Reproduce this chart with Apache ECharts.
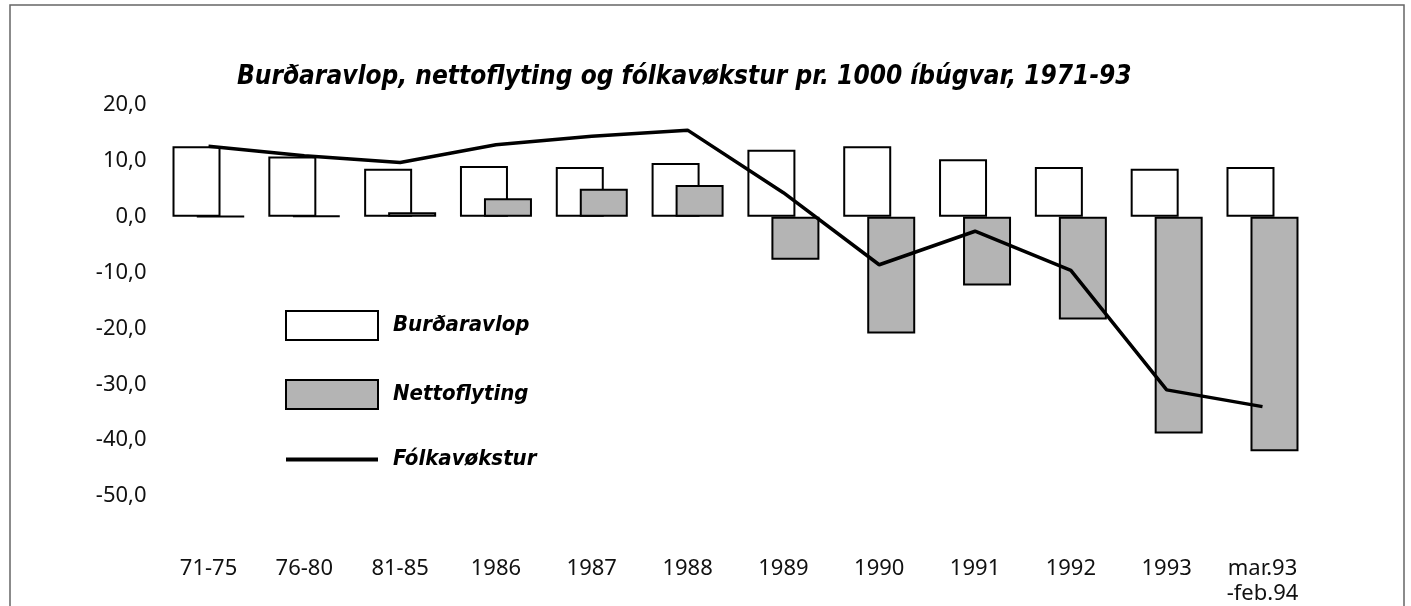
<!DOCTYPE html>
<html>
<head>
<meta charset="utf-8">
<script src="https://cdn.jsdelivr.net/npm/echarts@6/dist/echarts.min.js"></script>
<style>
html,body{margin:0;padding:0;background:#fff;}
#chart{width:1411px;height:606px;}
</style>
</head>
<body>
<div id="chart"></div>
<script>
var titleText = 'Burðaravlop, nettoflyting og fólkavøkstur pr. 1000 íbúgvar, 1971-93';
var categories = ['71-75','76-80','81-85','1986','1987','1988','1989','1990','1991','1992','1993','mar.93\n-feb.94'];
var burdaravlop = [12.6, 10.8, 8.6, 9.1, 8.9, 9.6, 12.0, 12.6, 10.3, 8.9, 8.6, 8.9];
var nettoflyting = [0.1, 0.2, 0.8, 3.3, 5.0, 5.7, -7.7, -20.9, -12.3, -18.4, -38.8, -42.0];
var folkavokstur = [12.6, 10.9, 9.7, 12.9, 14.4, 15.5, 4.3, -8.6, -2.6, -9.6, -31.0, -34.0];
var yMin = -50, yMax = 20, yStep = 10;

var chart = echarts.init(document.getElementById('chart'));
var labelFont = '"Noto Sans", sans-serif';
var boldFont = '"DejaVu Sans Condensed", "DejaVu Sans", sans-serif';
chart.setOption({
  backgroundColor: '#fff',
  animation: false,
  title: {
    text: titleText,
    left: 232,
    top: 59,
    textStyle: {fontFamily: boldFont, fontSize: 26, fontWeight: 'bold', fontStyle: 'italic', color: '#000'}
  },
  graphic: [{
    type: 'rect', silent: true, z: -1,
    shape: {x: 10, y: 5, width: 1394, height: 620},
    style: {fill: 'none', stroke: '#666', lineWidth: 1.5}
  }],
  legend: {
    orient: 'vertical',
    left: 284,
    top: 310,
    padding: 0,
    itemGap: 38,
    itemWidth: 92,
    itemHeight: 29,
    textStyle: {fontFamily: boldFont, fontSize: 22, fontWeight: 'bold', fontStyle: 'italic', color: '#000', padding: [0,0,0,10]},
    data: [
      {name: 'Burðaravlop', icon: 'rect'},
      {name: 'Nettoflyting', icon: 'rect'},
      {name: 'Fólkavøkstur', itemStyle: {color: 'rgba(0,0,0,0)', borderWidth: 0, opacity: 0}, lineStyle: {width: 4, color: '#000'}}
    ]
  },
  grid: {left: 160.6, right: 100.6, top: 105, bottom: 93, containLabel: false},
  xAxis: {
    type: 'category',
    data: categories,
    axisLine: {show: false, onZero: false},
    axisTick: {show: false},
    splitLine: {show: false},
    axisLabel: {fontFamily: labelFont, fontSize: 22, color: '#111', margin: 60, lineHeight: 25, interval: 0}
  },
  yAxis: {
    type: 'value',
    min: yMin, max: yMax, interval: yStep,
    axisLine: {show: false},
    axisTick: {show: false},
    splitLine: {show: false},
    axisLabel: {
      fontFamily: labelFont, fontSize: 22, color: '#111', margin: 14,
      formatter: function (v) { return v.toFixed(1).replace('.', ','); }
    }
  },
  series: [
    {
      name: 'Burðaravlop', type: 'bar', data: burdaravlop,
      barWidth: 48, barGap: '-50%', z: 2,
      itemStyle: {color: '#ffffff', borderColor: '#000', borderWidth: 2}
    },
    {
      name: 'Nettoflyting', type: 'bar', data: nettoflyting,
      barWidth: 48, barGap: '-50%', z: 3,
      itemStyle: {color: '#b4b4b4', borderColor: '#000', borderWidth: 2}
    },
    {
      name: 'Fólkavøkstur', type: 'line', data: folkavokstur,
      symbol: 'none', z: 5,
      lineStyle: {color: '#000', width: 3.5},
      itemStyle: {color: '#000'}
    }
  ]
});
</script>
</body>
</html>
